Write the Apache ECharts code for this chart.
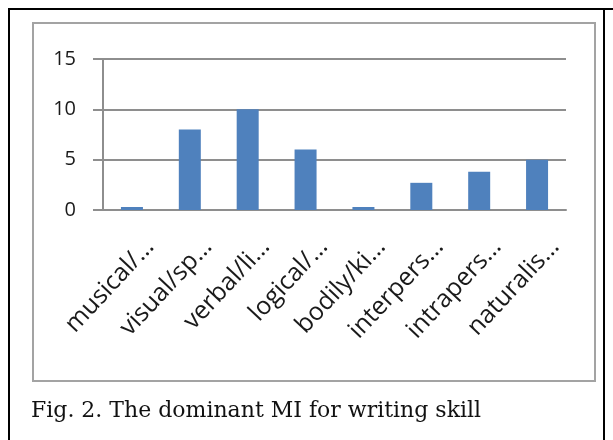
<!DOCTYPE html>
<html>
<head>
<meta charset="utf-8">
<script src="https://cdn.jsdelivr.net/npm/echarts@6/dist/echarts.min.js"></script>
<style>
  html, body { margin: 0; padding: 0; background: #fff; }
  #chart { width: 613px; height: 440px; }
</style>
</head>
<body>
<div id="chart"></div>
<script>
const categories = [
  "musical/…", "visual/sp…", "verbal/li…", "logical/…",
  "bodily/ki…", "interpers…", "intrapers…", "naturalis…"
];
const values = [0.3, 8, 10, 6, 0.3, 2.7, 3.8, 5];
const yTicks = { min: 0, max: 15, interval: 5 };
const caption = "Fig. 2. The dominant MI for writing skill";

const chart = echarts.init(document.getElementById("chart"), null, { renderer: "canvas" });

const axisGray = "#8e8e8e";
const labelFont = "'Open Sans', Lato, sans-serif";

chart.setOption({
  animation: false,
  grid: { left: 103, right: 47, top: 59, height: 151 },
  graphic: [
    // page frame (top/left/right black rules)
    { type: "line", shape: { x1: 8, y1: 9, x2: 613, y2: 9 }, style: { stroke: "#000", lineWidth: 2 } },
    { type: "line", shape: { x1: 9, y1: 9, x2: 9, y2: 440 }, style: { stroke: "#000", lineWidth: 2 } },
    { type: "line", shape: { x1: 604, y1: 9, x2: 604, y2: 440 }, style: { stroke: "#000", lineWidth: 2 } },
    // chart area box
    { type: "rect", shape: { x: 33, y: 23, width: 562, height: 358 },
      style: { fill: "#fff", stroke: "#a3a3a3", lineWidth: 2 }, z: -1 },
    { type: "text", left: 31, top: 400,
      style: { text: caption, font: "22px 'DejaVu Serif', 'Liberation Serif', serif", fill: "#111" } }
  ],
  xAxis: {
    type: "category",
    data: categories,
    axisLine: { lineStyle: { color: axisGray, width: 2 } },
    axisTick: { length: 14, lineStyle: { color: axisGray, width: 2 } },
    axisLabel: {
      interval: 0,
      rotate: 47,
      margin: 16,
      verticalAlign: "top",
      padding: [12, 0, 0, 0],
      color: "#1a1a1a",
      fontSize: 25,
      fontFamily: labelFont
    }
  },
  yAxis: {
    type: "value",
    min: yTicks.min,
    max: yTicks.max,
    interval: yTicks.interval,
    axisLine: { show: true, lineStyle: { color: axisGray, width: 2 } },
    axisTick: { show: true, length: 10, lineStyle: { color: axisGray, width: 2 } },
    splitLine: { lineStyle: { color: axisGray, width: 2 } },
    axisLabel: {
      margin: 27,
      color: "#1a1a1a",
      fontSize: 20,
      fontFamily: labelFont
    }
  },
  series: [
    {
      type: "bar",
      data: values,
      barWidth: 22,
      itemStyle: { color: "#4f81bd" }
    }
  ]
});
</script>
</body>
</html>
